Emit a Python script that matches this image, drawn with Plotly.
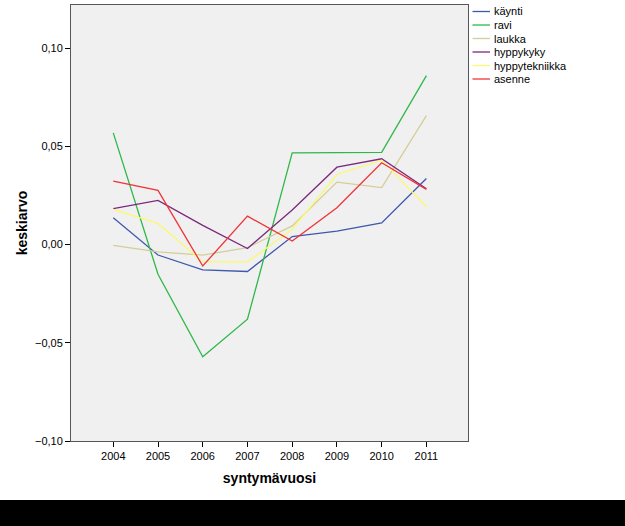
import plotly.graph_objects as go

years = [2004, 2005, 2006, 2007, 2008, 2009, 2010, 2011]
kaynti = [0.0137, -0.0053, -0.0129, -0.0137, 0.0041, 0.0069, 0.0110, 0.0337]
ravi = [0.0569, -0.0151, -0.0571, -0.0380, 0.0467, 0.0469, 0.0470, 0.0860]
laukka = [-0.0004, -0.0037, -0.0054, -0.0015, 0.0095, 0.0318, 0.0290, 0.0657]
hyppykyky = [0.0183, 0.0225, 0.0098, -0.0020, 0.0176, 0.0394, 0.0437, 0.0284]
hyppytekniikka = [0.0179, 0.0108, -0.0088, -0.0088, 0.0078, 0.0357, 0.0430, 0.0193]
asenne = [0.0323, 0.0276, -0.0109, 0.0145, 0.0018, 0.0188, 0.0417, 0.0281]

series = [
    ("käynti", kaynti, "#3E58AC"),
    ("ravi", ravi, "#2EB848"),
    ("laukka", laukka, "#D3CE97"),
    ("hyppykyky", hyppykyky, "#7C287D"),
    ("hyppytekniikka", hyppytekniikka, "#FBF873"),
    ("asenne", asenne, "#EF3338"),
]

font = "Arial, Liberation Sans, sans-serif"

W, H = 625, 526
ML, MR, MT, MB = 71, 157, 5, 85
PW, PH = W - ML - MR, H - MT - MB


def px_x(px):
    return (px - ML) / PW


def px_y(py):
    return (H - MB - py) / PH


fig = go.Figure()
shapes = []
annotations = []
for i, (name, vals, color) in enumerate(series):
    fig.add_trace(go.Scatter(x=years, y=vals, mode="lines", name=name,
                             line=dict(color=color, width=1.3), showlegend=False))
    ly = 11.5 + 13.5 * i
    shapes.append(dict(type="line", xref="paper", yref="paper",
                       x0=px_x(472.5), x1=px_x(490), y0=px_y(ly), y1=px_y(ly),
                       line=dict(color=color, width=1.3)))
    annotations.append(dict(xref="paper", yref="paper", x=px_x(491.5), y=px_y(ly),
                            xanchor="left", yanchor="middle", text=name, showarrow=False,
                            font=dict(family=font, size=11, color="black")))

shapes.append(dict(type="rect", xref="paper", yref="paper",
                   x0=-0.2, x1=1.45, y0=-0.25, y1=px_y(500),
                   fillcolor="black", line=dict(width=0), layer="above"))

fig.update_layout(
    width=W, height=H,
    margin=dict(l=ML, r=MR, t=MT, b=MB),
    paper_bgcolor="white",
    plot_bgcolor="#F0F0F0",
    separators=", ",
    font=dict(family=font, size=11, color="black"),
    showlegend=False,
    xaxis=dict(range=[2003.055, 2011.93], tickvals=years, ticktext=[str(y) for y in years],
               ticks="outside", ticklen=5, tickcolor="black", showgrid=False, zeroline=False,
               showline=True, linecolor="#555555", mirror=True,
               title=dict(text="<b>syntymävuosi</b>", font=dict(size=14, family=font), standoff=11)),
    yaxis=dict(range=[-0.1, 0.122], tickvals=[-0.1, -0.05, 0, 0.05, 0.1], tickformat=".2f",
               ticks="outside", ticklen=5, tickcolor="black", showgrid=False, zeroline=False,
               showline=True, linecolor="#555555", mirror=True,
               title=dict(text="<b>keskiarvo</b>", font=dict(size=14, family=font), standoff=4)),
    shapes=shapes,
    annotations=annotations,
)

fig.write_html("out.html")
